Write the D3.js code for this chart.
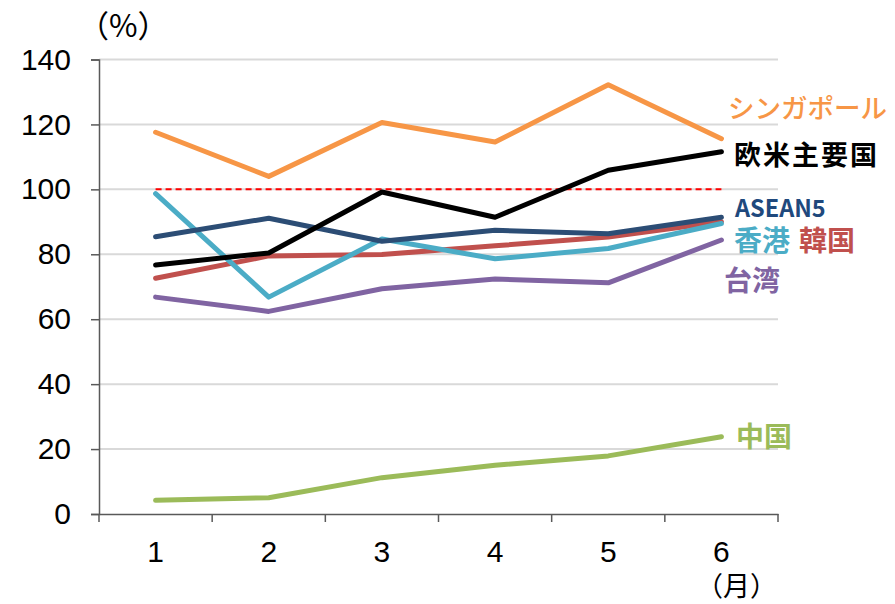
<!DOCTYPE html>
<html>
<head>
<meta charset="utf-8">
<script src="https://cdn.jsdelivr.net/npm/d3@7"></script>
<style>
  html, body { margin: 0; padding: 0; background: #fff; }
  svg { display: block; }
  .tick text { font-family: "Liberation Sans", Arial, sans-serif; }
</style>
</head>
<body>
<svg id="chart" width="895" height="604"></svg>
<script>
// Months on the x axis
const months = ["1", "2", "3", "4", "5", "6"];
const yTicks = [0, 20, 40, 60, 80, 100, 120, 140];

// Series values (%)
const singapore = [117.6, 104.0, 120.6, 114.6, 132.2, 115.6];
const westMajor = [76.7, 80.4, 99.2, 91.4, 105.9, 111.6];
const asean5    = [85.4, 91.1, 84.0, 87.4, 86.3, 91.4];
const hongkong  = [98.7, 66.8, 84.7, 78.6, 81.8, 89.5];
const korea     = [72.6, 79.5, 79.9, 82.6, 85.3, 90.0];
const taiwan    = [66.8, 62.4, 69.4, 72.4, 71.2, 84.4];
const china     = [4.2, 5.0, 11.2, 15.0, 17.9, 23.8];
const reference = [100, 100, 100, 100, 100, 100];

const series = [
  { name: "中国",       values: china,     color: "#9BBB59" },
  { name: "台湾",       values: taiwan,    color: "#8064A2" },
  { name: "韓国",       values: korea,     color: "#C0504D" },
  { name: "香港",       values: hongkong,  color: "#4BACC6" },
  { name: "ASEAN5",     values: asean5,    color: "#2C4D75" },
  { name: "欧米主要国", values: westMajor, color: "#000000" },
  { name: "シンガポール", values: singapore, color: "#F79646" }
];

const labels = [
  { text: "シンガポール", x: 728, y: 118, color: "#F79646", size: 26.5, weight: 500 },
  { text: "欧米主要国",   x: 734, y: 165, color: "#000000", size: 27, weight: 700, spacing: 2 },
  { text: "ASEAN5",       x: 735, y: 217, color: "#1F497D", size: 23.5, weight: 700 },
  { text: "香港",         x: 734, y: 251, color: "#4BACC6", size: 28, weight: 700 },
  { text: "韓国",         x: 799, y: 251, color: "#C0504D", size: 28, weight: 700 },
  { text: "台湾",         x: 724, y: 291, color: "#8064A2", size: 28, weight: 700 },
  { text: "中国",         x: 736, y: 447, color: "#9BBB59", size: 28, weight: 700 }
];

const svg = d3.select("#chart");
const plotLeft = 99, plotRight = 778, plotTop = 59.5, plotBottom = 514;

const x = d3.scaleBand().domain(months).range([plotLeft, plotRight]).padding(0);
const y = d3.scaleLinear().domain([0, 140]).range([plotBottom, plotTop]);
const cx = m => x(m) + x.bandwidth() / 2;

// Horizontal gridlines
svg.append("g")
  .selectAll("line")
  .data(yTicks.filter(t => t > 0))
  .join("line")
  .attr("x1", plotLeft).attr("x2", plotRight)
  .attr("y1", d => y(d)).attr("y2", d => y(d))
  .attr("stroke", "#D9D9D9").attr("stroke-width", 2);

// Y axis
const yAxis = svg.append("g")
  .attr("transform", `translate(${plotLeft},0)`)
  .call(d3.axisLeft(y).tickValues(yTicks).tickSize(8).tickPadding(20));
yAxis.select(".domain").attr("stroke", "#595959").attr("stroke-width", 1.5);
yAxis.selectAll(".tick line").attr("stroke", "#595959").attr("stroke-width", 1.5);
yAxis.selectAll(".tick text").attr("font-size", 30).attr("fill", "#000");

// X axis: ticks at band boundaries, labels centred in each band
const xAxis = svg.append("g")
  .attr("transform", `translate(0,${plotBottom})`)
  .call(d3.axisBottom(x).tickSize(0).tickPadding(27));
xAxis.select(".domain").attr("stroke", "#595959").attr("stroke-width", 1.5);
xAxis.selectAll(".tick text").attr("font-size", 30).attr("fill", "#000");
svg.append("g")
  .selectAll("line")
  .data(months.map(m => x(m)).concat([plotRight]))
  .join("line")
  .attr("x1", d => d).attr("x2", d => d)
  .attr("y1", plotBottom).attr("y2", plotBottom + 8)
  .attr("stroke", "#595959").attr("stroke-width", 1.5);

const line = d3.line().x((d, i) => cx(months[i])).y(d => y(d));

// Reference line at 100
svg.append("path")
  .datum(reference)
  .attr("d", line)
  .attr("fill", "none")
  .attr("stroke", "#FF0000")
  .attr("stroke-width", 2)
  .attr("stroke-dasharray", "6,4");

// Series lines
svg.append("g")
  .selectAll("path")
  .data(series)
  .join("path")
  .attr("d", d => line(d.values))
  .attr("fill", "none")
  .attr("stroke", d => d.color)
  .attr("stroke-width", 5)
  .attr("stroke-linejoin", "round")
  .attr("stroke-linecap", "round");

// Series labels
svg.append("g")
  .selectAll("text")
  .data(labels)
  .join("text")
  .attr("x", d => d.x).attr("y", d => d.y)
  .attr("fill", d => d.color)
  .attr("font-size", d => d.size)
  .attr("font-weight", d => d.weight)
  .attr("letter-spacing", d => d.spacing || 0)
  .attr("font-family", "'Noto Sans CJK JP', 'Noto Sans', sans-serif")
  .text(d => d.text);

// Unit labels
svg.append("text")
  .attr("x", 78).attr("y", 37)
  .attr("font-size", 31)
  .attr("font-family", "'Noto Sans CJK JP', sans-serif")
  .attr("fill", "#000")
  .text("（%）");
svg.append("text")
  .attr("x", 696).attr("y", 596)
  .attr("font-size", 27)
  .attr("font-family", "'Noto Sans CJK JP', sans-serif")
  .attr("fill", "#000")
  .text("（月）");
</script>
</body>
</html>
